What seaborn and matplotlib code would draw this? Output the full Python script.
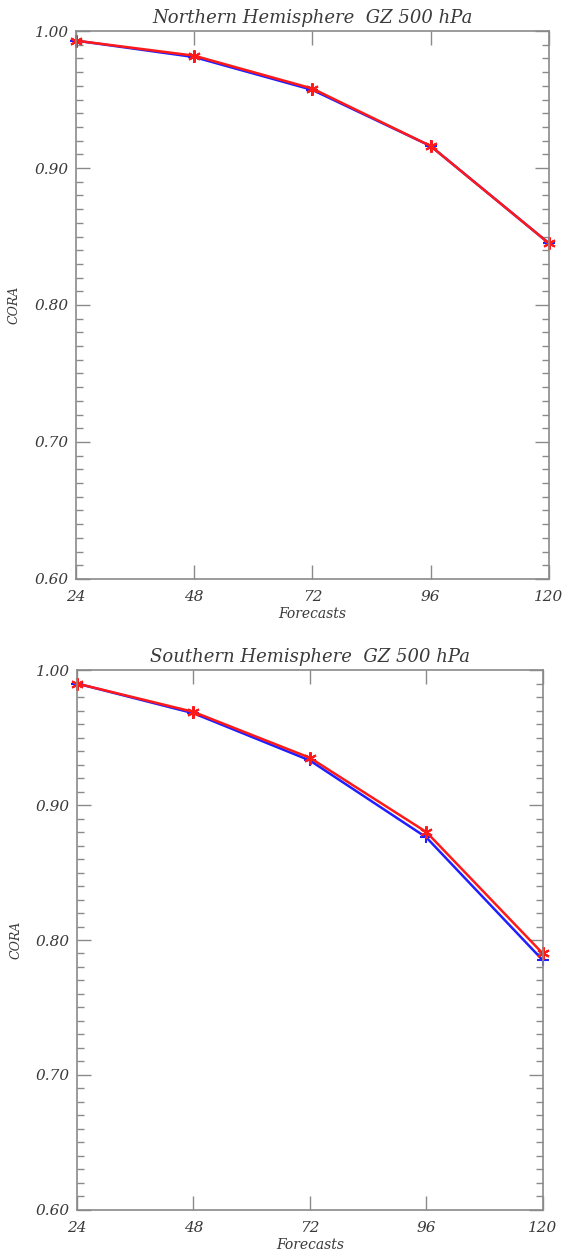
import matplotlib
matplotlib.use("Agg")
import matplotlib.pyplot as plt
from matplotlib.ticker import MultipleLocator, FixedLocator
import seaborn as sns
import pandas as pd

forecasts = [24, 48, 72, 96, 120]
nh_blue = [0.993, 0.981, 0.957, 0.916, 0.845]
nh_red = [0.993, 0.982, 0.958, 0.916, 0.845]
sh_blue = [0.990, 0.968, 0.933, 0.876, 0.785]
sh_red = [0.990, 0.969, 0.935, 0.880, 0.790]
titles = ["Northern Hemisphere  GZ 500 hPa", "Southern Hemisphere  GZ 500 hPa"]
yticks = [0.60, 0.70, 0.80, 0.90, 1.00]

sns.set_theme(style="white")
plt.rcParams['font.family'] = ['DejaVu Serif']
plt.rcParams['font.style'] = 'italic'

txt = '#3a3a3a'
frame = '#8a8a8a'

fig = plt.figure(figsize=(5.66, 12.51), dpi=100)
fig.patch.set_facecolor('white')
ax1 = fig.add_axes([0.134, 0.5372, 0.836, 0.438])
ax2 = fig.add_axes([0.136, 0.0328, 0.823, 0.4316])

panels = [(ax1, nh_blue, nh_red, titles[0]), (ax2, sh_blue, sh_red, titles[1])]
for ax, blue, red, title in panels:
    df_b = pd.DataFrame({"Forecasts": forecasts, "CORA": blue})
    df_r = pd.DataFrame({"Forecasts": forecasts, "CORA": red})
    sns.lineplot(data=df_b, x="Forecasts", y="CORA", ax=ax, color='#1f1fff',
                 linewidth=1.8, marker='+', markersize=8, markeredgewidth=1.5,
                 markeredgecolor='#1f1fff', clip_on=False)
    sns.lineplot(data=df_r, x="Forecasts", y="CORA", ax=ax, color='#ff1a1a',
                 linewidth=1.8, marker=(6, 2, 0), markersize=9, markeredgewidth=1.5,
                 markeredgecolor='#ff1a1a', clip_on=False)
    ax.set_xlim(24, 120)
    ax.set_ylim(0.60, 1.00)
    ax.xaxis.set_major_locator(FixedLocator(forecasts))
    ax.yaxis.set_major_locator(FixedLocator(yticks))
    ax.yaxis.set_minor_locator(MultipleLocator(0.01))
    ax.set_xticklabels([str(v) for v in forecasts])
    ax.set_yticklabels([f"{v:.2f}" for v in yticks])
    ax.tick_params(axis='both', which='both', direction='in', colors=frame,
                   labelcolor=txt, top=True, right=True, left=True, bottom=True,
                   labelsize=11, width=1)
    ax.tick_params(axis='both', which='major', length=10)
    ax.tick_params(axis='y', which='minor', length=5)
    ax.tick_params(axis='x', which='major', pad=8)
    ax.tick_params(axis='y', which='major', pad=5)
    for s in ax.spines.values():
        s.set_color(frame)
        s.set_linewidth(1.2)
    ax.set_facecolor('white')
    ax.set_title(title, fontsize=13, color=txt, pad=6)
    ax.set_xlabel("Forecasts", fontsize=10, color=txt, labelpad=2)
    ax.set_ylabel("CORA", fontsize=9, color=txt, labelpad=10)

fig.savefig("out.png", dpi=100, facecolor='white')
